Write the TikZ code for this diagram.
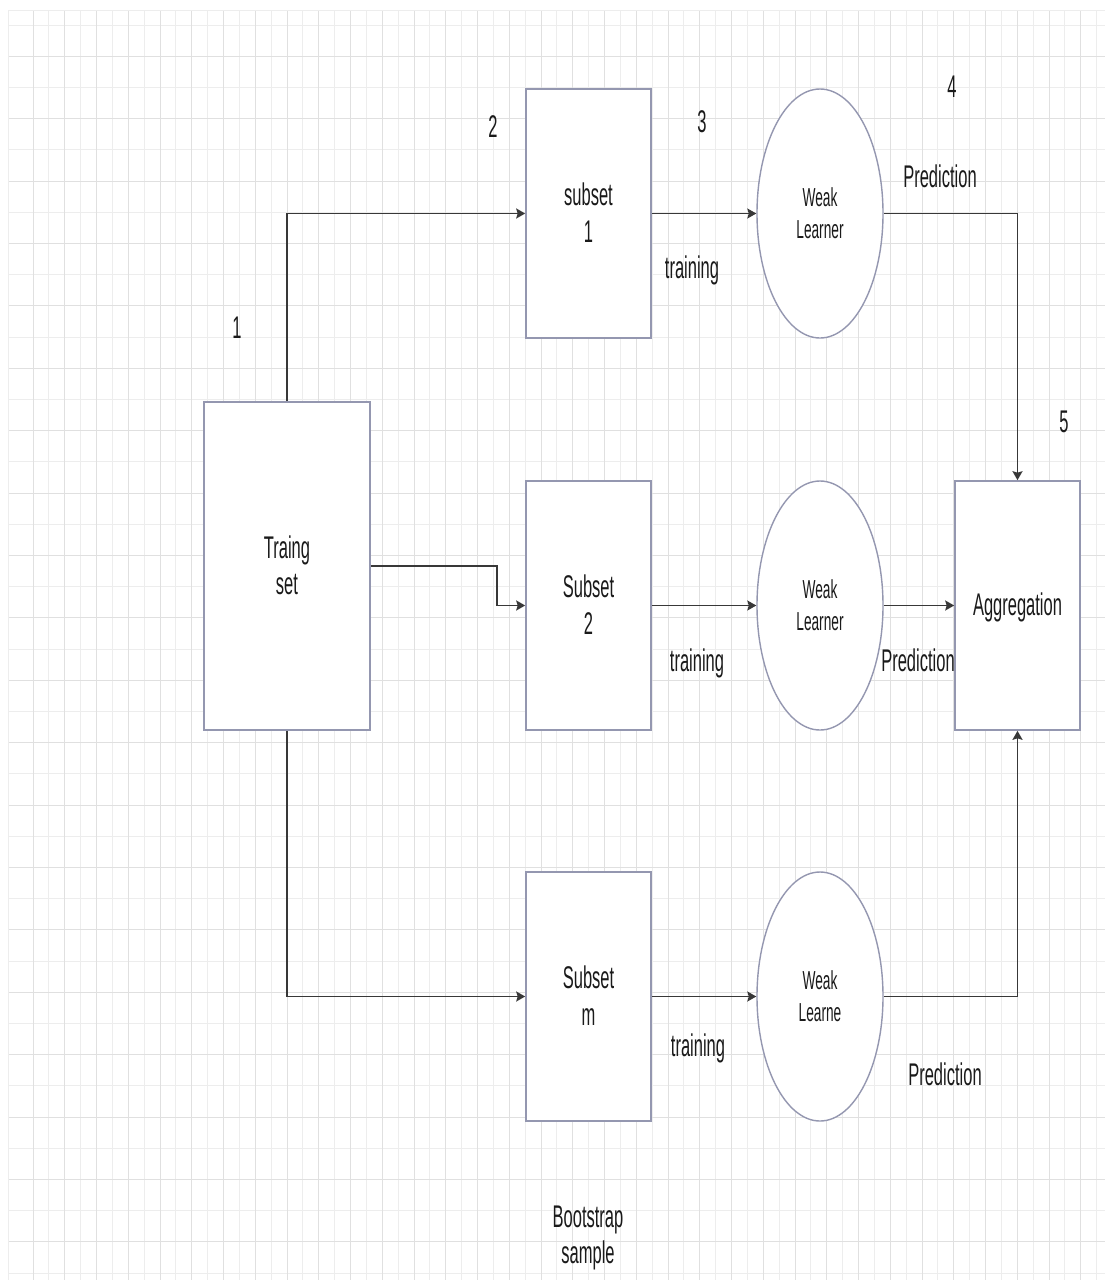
\documentclass[tikz,border=0pt]{standalone}
\usepackage{fontspec}
\setmainfont{Liberation Sans}
\usepackage{tikz}
\usetikzlibrary{arrows.meta,shapes.geometric,positioning}
\definecolor{boxline}{HTML}{9497B0}
\definecolor{linkline}{HTML}{383838}
\definecolor{gridminor}{HTML}{EDEDED}
\definecolor{gridmajor}{HTML}{E0E0E0}
\definecolor{inkc}{HTML}{1A1A1A}
% tall narrow text, as in the drawing (sits a little low)
\newcommand{\vtxt}[1]{\raisebox{-3pt}[\height][\depth]{\scalebox{1}[1.9]{\begin{tabular}{@{}c@{}}#1\end{tabular}}}}

\begin{document}
\begin{tikzpicture}[
  x=1pt, y=-1pt,
  box/.style={rectangle, draw=boxline, line width=1.6pt, fill=white, inner sep=0pt,
    minimum width=125, minimum height=249, text=inkc, font=\fontsize{16.5}{19.3}\selectfont},
  learner/.style={ellipse, draw=boxline, line width=1.4pt, fill=white, inner sep=0pt,
    minimum width=126, minimum height=249, text=inkc, font=\fontsize{13.7}{16.8}\selectfont},
  link/.style={->, draw=linkline, line width=1.8pt},
  lbl/.style={inner sep=0pt, text=inkc, font=\fontsize{16.5}{19.3}\selectfont},
  >={Stealth[length=9pt, width=10pt, inset=1.5pt]}
]
  \useasboundingbox (0,0) rectangle (1105,1280);
  \fill[white] (0,0) rectangle (1105,1280);
  % background grid
  \foreach \gx in {33,48.875,...,1105} \draw[gridminor, line width=1pt] (\gx,10) -- (\gx,1280);
  \foreach \gy in {25,56.2,...,1280} \draw[gridminor, line width=1pt] (8,\gy) -- (1105,\gy);
  \foreach \gx in {33,64.75,...,1105} \draw[gridmajor, line width=1pt] (\gx,10) -- (\gx,1280);
  \foreach \gy in {56.2,118.6,...,1280} \draw[gridmajor, line width=1pt] (8,\gy) -- (1105,\gy);
  \draw[gridminor, line width=1pt] (8,1280) |- (1105,10);

  \node[box, minimum width=166, minimum height=328] (train) at (287,566) {\vtxt{Traing\\set}};
  \node[box] (sub1) at (588.5,213.5) {\vtxt{subset\\1}};
  \node[box] (sub2) at (588.5,605.5) {\vtxt{Subset\\2}};
  \node[box] (subm) at (588.5,996.5) {\vtxt{Subset\\m}};
  \node[learner] (wl1) at (820,213.5) {\vtxt{Weak\\Learner}};
  \node[learner] (wl2) at (820,605.5) {\vtxt{Weak\\Learner}};
  \node[learner] (wlm) at (820,996.5) {\vtxt{Weak\\Learne}};
  \node[box] (agg) at (1017.5,605.5) {\vtxt{Aggregation}};

  % bootstrap samples
  \draw[link] (train.north) |- (sub1.west);
  \draw[link] (train.east) -- ++(126,0) |- (sub2.west);
  \draw[link] (train.south) |- (subm.west);
  % training
  \draw[link] (sub1) -- (wl1);
  \draw[link] (sub2) -- (wl2);
  \draw[link] (subm) -- (wlm);
  % predictions
  \draw[link] (wl1.east) -| (agg.north);
  \draw[link] (wl2) -- (agg);
  \draw[link] (wlm.east) -| (agg.south);

  % step numbers
  \node[lbl] (n1) at (237,328) {\vtxt{1}};
  \node[lbl] (n2) at (493,127) {\vtxt{2}};
  \node[lbl] (n3) at (702,122) {\vtxt{3}};
  \node[lbl] (n4) at (952,87) {\vtxt{4}};
  \node[lbl] (n5) at (1064,422) {\vtxt{5}};
  % edge texts
  \node[lbl] (tr1) at (692,268) {\vtxt{training}};
  \node[lbl] (tr2) at (697,661) {\vtxt{training}};
  \node[lbl] (trm) at (698,1046) {\vtxt{training}};
  \node[lbl] (pr1) at (940,177) {\vtxt{Prediction}};
  \node[lbl] (pr2) at (918,661) {\vtxt{Prediction}};
  \node[lbl] (prm) at (945,1075) {\vtxt{Prediction}};
  \node[lbl] (boot) at (588,1235) {\vtxt{Bootstrap\\sample}};
\end{tikzpicture}
\end{document}
